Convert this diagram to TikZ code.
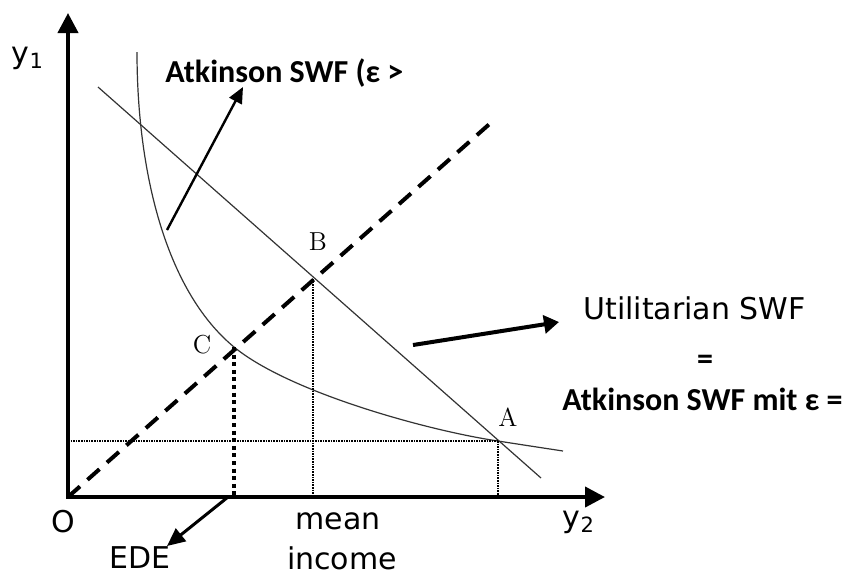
\documentclass[tikz,border=0pt]{standalone}
\usepackage{fontspec}
\usepackage{tikz}
\usetikzlibrary{arrows.meta,calc,positioning}
\newfontfamily\verdfont{DejaVu Sans}
\newfontfamily\califont{Carlito}

\begin{document}
\begin{tikzpicture}[x=0.5pt,y=-0.5pt,
  axis/.style={line width=2pt,line join=miter,{Triangle[length=10pt,width=10pt]}-{Triangle[length=10pt,width=10pt]}},
  thinline/.style={line width=0.6pt,black!80},
  diag/.style={line width=2pt,dash pattern=on 8pt off 5pt},
  guide/.style={line width=1pt,dash pattern=on 0.8pt off 0.5pt},
  edeguide/.style={line width=2pt,dash pattern=on 2pt off 1.8pt},
  pointer/.style={line width=1.2pt,-{Triangle[length=8pt,width=7pt]}},
  axlabel/.style={inner sep=0.5pt,font=\verdfont\fontsize{15}{18}\selectfont},
  ptlabel/.style={font=\fontsize{13}{15}\selectfont},
  boldlabel/.style={inner sep=0pt,font=\califont\bfseries\fontsize{16}{19}\selectfont}]
  \useasboundingbox (0,0) rectangle (856,575);

  % Points on the diagram
  \coordinate (O) at (68,497);
  \coordinate (A) at (498,441);
  \coordinate (B) at (313,279);
  \coordinate (C) at (234,347);

  % Axes
  \draw[axis] (68,13) -- (O) -- (605,497);
  \node[axlabel] (ylab) at (28,58) {y\textsubscript{1}};
  \node[axlabel] (xlab) at (579,522) {y\textsubscript{2}};
  \node[axlabel] (olab) at (63,522) {O};

  % Utilitarian SWF (straight line)
  \coordinate (u1) at (98,87);
  \coordinate (u2) at (541,478);
  \draw[thinline] (u1) -- (u2);

  % Atkinson SWF (curve)
  \draw[thinline] (137,52) .. controls (137,170) and (165,290) .. (C)
    .. controls (290,393) and (430,431) .. (A)
    .. controls (530,446) and (550,449) .. (563,451);

  % Equal income line
  \coordinate (diagEnd) at (494,120);
  \draw[diag] (O) -- (diagEnd);

  % Guide lines
  \draw[guide] (O |- A) -- (A);
  \draw[guide] (A) -- (A |- O);
  \draw[guide] (B) -- (B |- O);
  \draw[edeguide] (C) -- (C |- O);

  % Point labels
  \node[ptlabel] (labA) at (508,417) {A};
  \node[ptlabel] (labB) at (318,242) {B};
  \node[ptlabel] (labC) at (202,345) {C};

  % Texts
  \node[boldlabel,anchor=base west] (atk) at (165,82) {Atkinson SWF (ε >};
  \node[axlabel,anchor=base west,inner sep=0pt] (util) at (583,319) {Utilitarian SWF};
  \node[boldlabel] (eq) at (705,362) {=};
  \node[boldlabel,anchor=base west] (atkone) at (562,410) {Atkinson SWF mit ε =};
  \node[axlabel] (mean) at (338,521) {mean};
  \node[axlabel] (income) at (342,558) {income};
  \node[axlabel] (ede) at (140,558) {EDE};

  % Arrows to the texts
  \coordinate (atkFrom) at (167,230);
  \coordinate (atkTo) at (243,87);
  \draw[pointer] (atkFrom) -- (atkTo);
  \coordinate (utilFrom) at (413,345);
  \coordinate (utilTo) at (559,322);
  \draw[line width=2pt,-{Triangle[length=7.5pt,width=9pt]}] (utilFrom) -- (utilTo);
  \coordinate (edeFrom) at (228,497);
  \coordinate (edeTo) at (167,546);
  \draw[line width=1.5pt,-{Triangle[length=9pt,width=8pt]}] (edeFrom) -- (edeTo);
\end{tikzpicture}
\end{document}
